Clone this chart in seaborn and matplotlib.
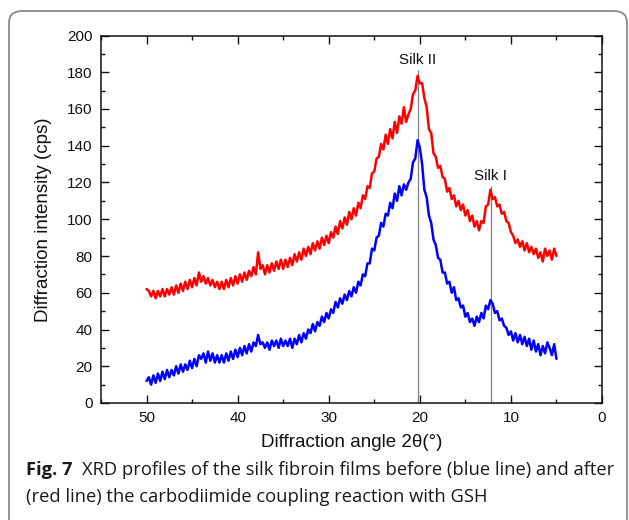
import numpy as np
import pandas as pd
import seaborn as sns
import matplotlib
matplotlib.use("Agg")
import matplotlib.pyplot as plt
from matplotlib.patches import FancyBboxPatch
from matplotlib.ticker import MultipleLocator

# Diffraction angle grid, 2-theta in degrees (5 to 50, step 0.25)
angle = np.arange(5.0, 50.0001, 0.25)

# Silk fibroin film before coupling (blue)
before = [
    24, 32, 26, 30, 33, 27, 31, 26, 32, 28,
    34, 29, 35, 31, 36, 32, 37, 33, 38, 34,
    39, 37, 41, 42, 46, 45, 50, 49, 54, 56,
    51, 53, 46, 49, 44, 47, 42, 46, 44, 49,
    47, 53, 52, 57, 56, 63, 60, 66, 65, 71,
    71, 78, 79, 86, 89, 98, 102, 112, 116, 130,
    139, 143, 133, 131, 122, 120, 116, 119, 113, 118,
    110, 114, 106, 109, 102, 103, 96, 98, 91, 90,
    83, 84, 76, 76, 69, 70, 64, 66, 60, 63,
    58, 61, 56, 59, 54, 57, 52, 55, 49, 51,
    46, 49, 44, 47, 42, 44, 39, 43, 38, 40,
    35, 38, 33, 37, 32, 35, 30, 35, 31, 34,
    31, 35, 30, 34, 31, 34, 29, 33, 30, 33,
    32, 37, 31, 33, 28, 32, 27, 31, 26, 30,
    25, 29, 24, 28, 23, 27, 22, 26, 22, 26,
    22, 27, 23, 28, 22, 27, 24, 26, 20, 24,
    19, 23, 18, 21, 17, 21, 16, 20, 15, 18,
    14, 18, 13, 17, 12, 16, 11, 15, 10, 14,
    12,
]

# Silk fibroin film after carbodiimide coupling with GSH (red)
after = [
    80, 84, 78, 83, 80, 84, 77, 82, 79, 84,
    81, 85, 82, 87, 83, 88, 85, 89, 87, 91,
    93, 98, 99, 104, 103, 108, 107, 112, 111, 116,
    108, 107, 98, 99, 94, 99, 96, 102, 99, 105,
    102, 108, 105, 110, 107, 113, 111, 117, 115, 122,
    123, 129, 128, 134, 136, 147, 149, 161, 166, 174,
    174, 178, 170, 168, 160, 157, 153, 161, 152, 156,
    147, 153, 144, 149, 141, 146, 138, 141, 134, 133,
    126, 125, 117, 118, 111, 113, 106, 109, 102, 106,
    100, 104, 97, 101, 95, 99, 92, 96, 90, 93,
    87, 91, 86, 90, 84, 88, 83, 87, 81, 85,
    80, 84, 78, 82, 77, 81, 75, 79, 74, 78,
    73, 78, 73, 77, 72, 76, 71, 75, 70, 75,
    73, 82, 70, 74, 69, 72, 67, 71, 66, 70,
    65, 69, 64, 68, 63, 67, 62, 66, 62, 66,
    63, 67, 64, 68, 65, 69, 66, 71, 64, 68,
    63, 67, 62, 66, 61, 65, 60, 64, 59, 63,
    59, 62, 58, 62, 58, 61, 57, 61, 58, 61,
    62,
]

# Crystal-form reflections marked on the plot
silk_labels = ["Silk II", "Silk I"]
silk_angles = [20.2, 12.2]
silk_heights = [181, 118]

x_ticks = [50, 40, 30, 20, 10, 0]
y_ticks = list(range(0, 201, 20))

df = pd.DataFrame({
    "angle": np.concatenate([angle, angle]),
    "intensity": np.concatenate([before, after]),
    "film": ["before"] * len(angle) + ["after"] * len(angle),
})

sns.set_theme(style="ticks")
plt.rcParams["font.family"] = ["Liberation Sans", "DejaVu Sans"]

W, H = 629, 520
fig = plt.figure(figsize=(W / 100, H / 100), dpi=100)
fig.patch.set_facecolor("white")

# rounded outer frame around figure and caption
frame = FancyBboxPatch((9 / W, -20 / H), (627 - 9) / W, (H - 11 + 20) / H,
                       boxstyle="round,pad=0,rounding_size=0.022",
                       transform=fig.transFigure, fill=False,
                       edgecolor="#8a8a8a", linewidth=1.3, zorder=0)
fig.patches.append(frame)

ax = fig.add_axes([101 / W, (H - 403) / H, (602 - 101) / W, (403 - 35.5) / H])
sns.lineplot(data=df, x="angle", y="intensity", hue="film",
             palette={"before": "#0000ff", "after": "#ff0000"},
             linewidth=1.8, legend=False, ax=ax, sort=False)

ax.vlines(silk_angles, 0, silk_heights, color="#7f7f7f", linewidth=0.9, zorder=1)
for lab, xa, ht in zip(silk_labels, silk_angles, silk_heights):
    ax.text(xa, ht + 2, lab, ha="center", va="bottom", fontsize=11, color="#111111")

ax.set_xlim(55, 0)
ax.set_ylim(0, 200)
ax.set_xticks(x_ticks)
ax.set_yticks(y_ticks)
ax.xaxis.set_minor_locator(MultipleLocator(5))
ax.yaxis.set_minor_locator(MultipleLocator(10))
ax.tick_params(which="both", direction="in", top=True, right=True,
               labelsize=11, colors="#111111", width=1.0)
ax.tick_params(which="major", length=5.5, pad=6)
ax.tick_params(which="minor", length=3)
for s in ax.spines.values():
    s.set_linewidth(1.1)
    s.set_color("#111111")

ax.set_xlabel("Diffraction angle 2θ(°)", fontsize=13.5, labelpad=6, color="#111111")
ax.set_ylabel("Diffraction intensity (cps)", fontsize=13.5, labelpad=11, color="#111111")

# caption
cap_font = ["Open Sans", "DejaVu Sans"]
cap_size = 13.25
t1 = fig.text(26 / W, 1 - 470 / H, "Fig. 7", fontsize=cap_size, fontweight="bold",
              family=cap_font, va="center", ha="left", color="#1a1a1a")
fig.canvas.draw()
bb = t1.get_window_extent()
fig.text((bb.x1 + 9) / W, 1 - 470 / H,
         "XRD profiles of the silk fibroin films before (blue line) and after",
         fontsize=cap_size, family=cap_font, va="center", ha="left", color="#1a1a1a")
fig.text(26 / W, 1 - 497 / H,
         "(red line) the carbodiimide coupling reaction with GSH",
         fontsize=cap_size, family=cap_font, va="center", ha="left", color="#1a1a1a")

fig.savefig("out.png", dpi=100)
